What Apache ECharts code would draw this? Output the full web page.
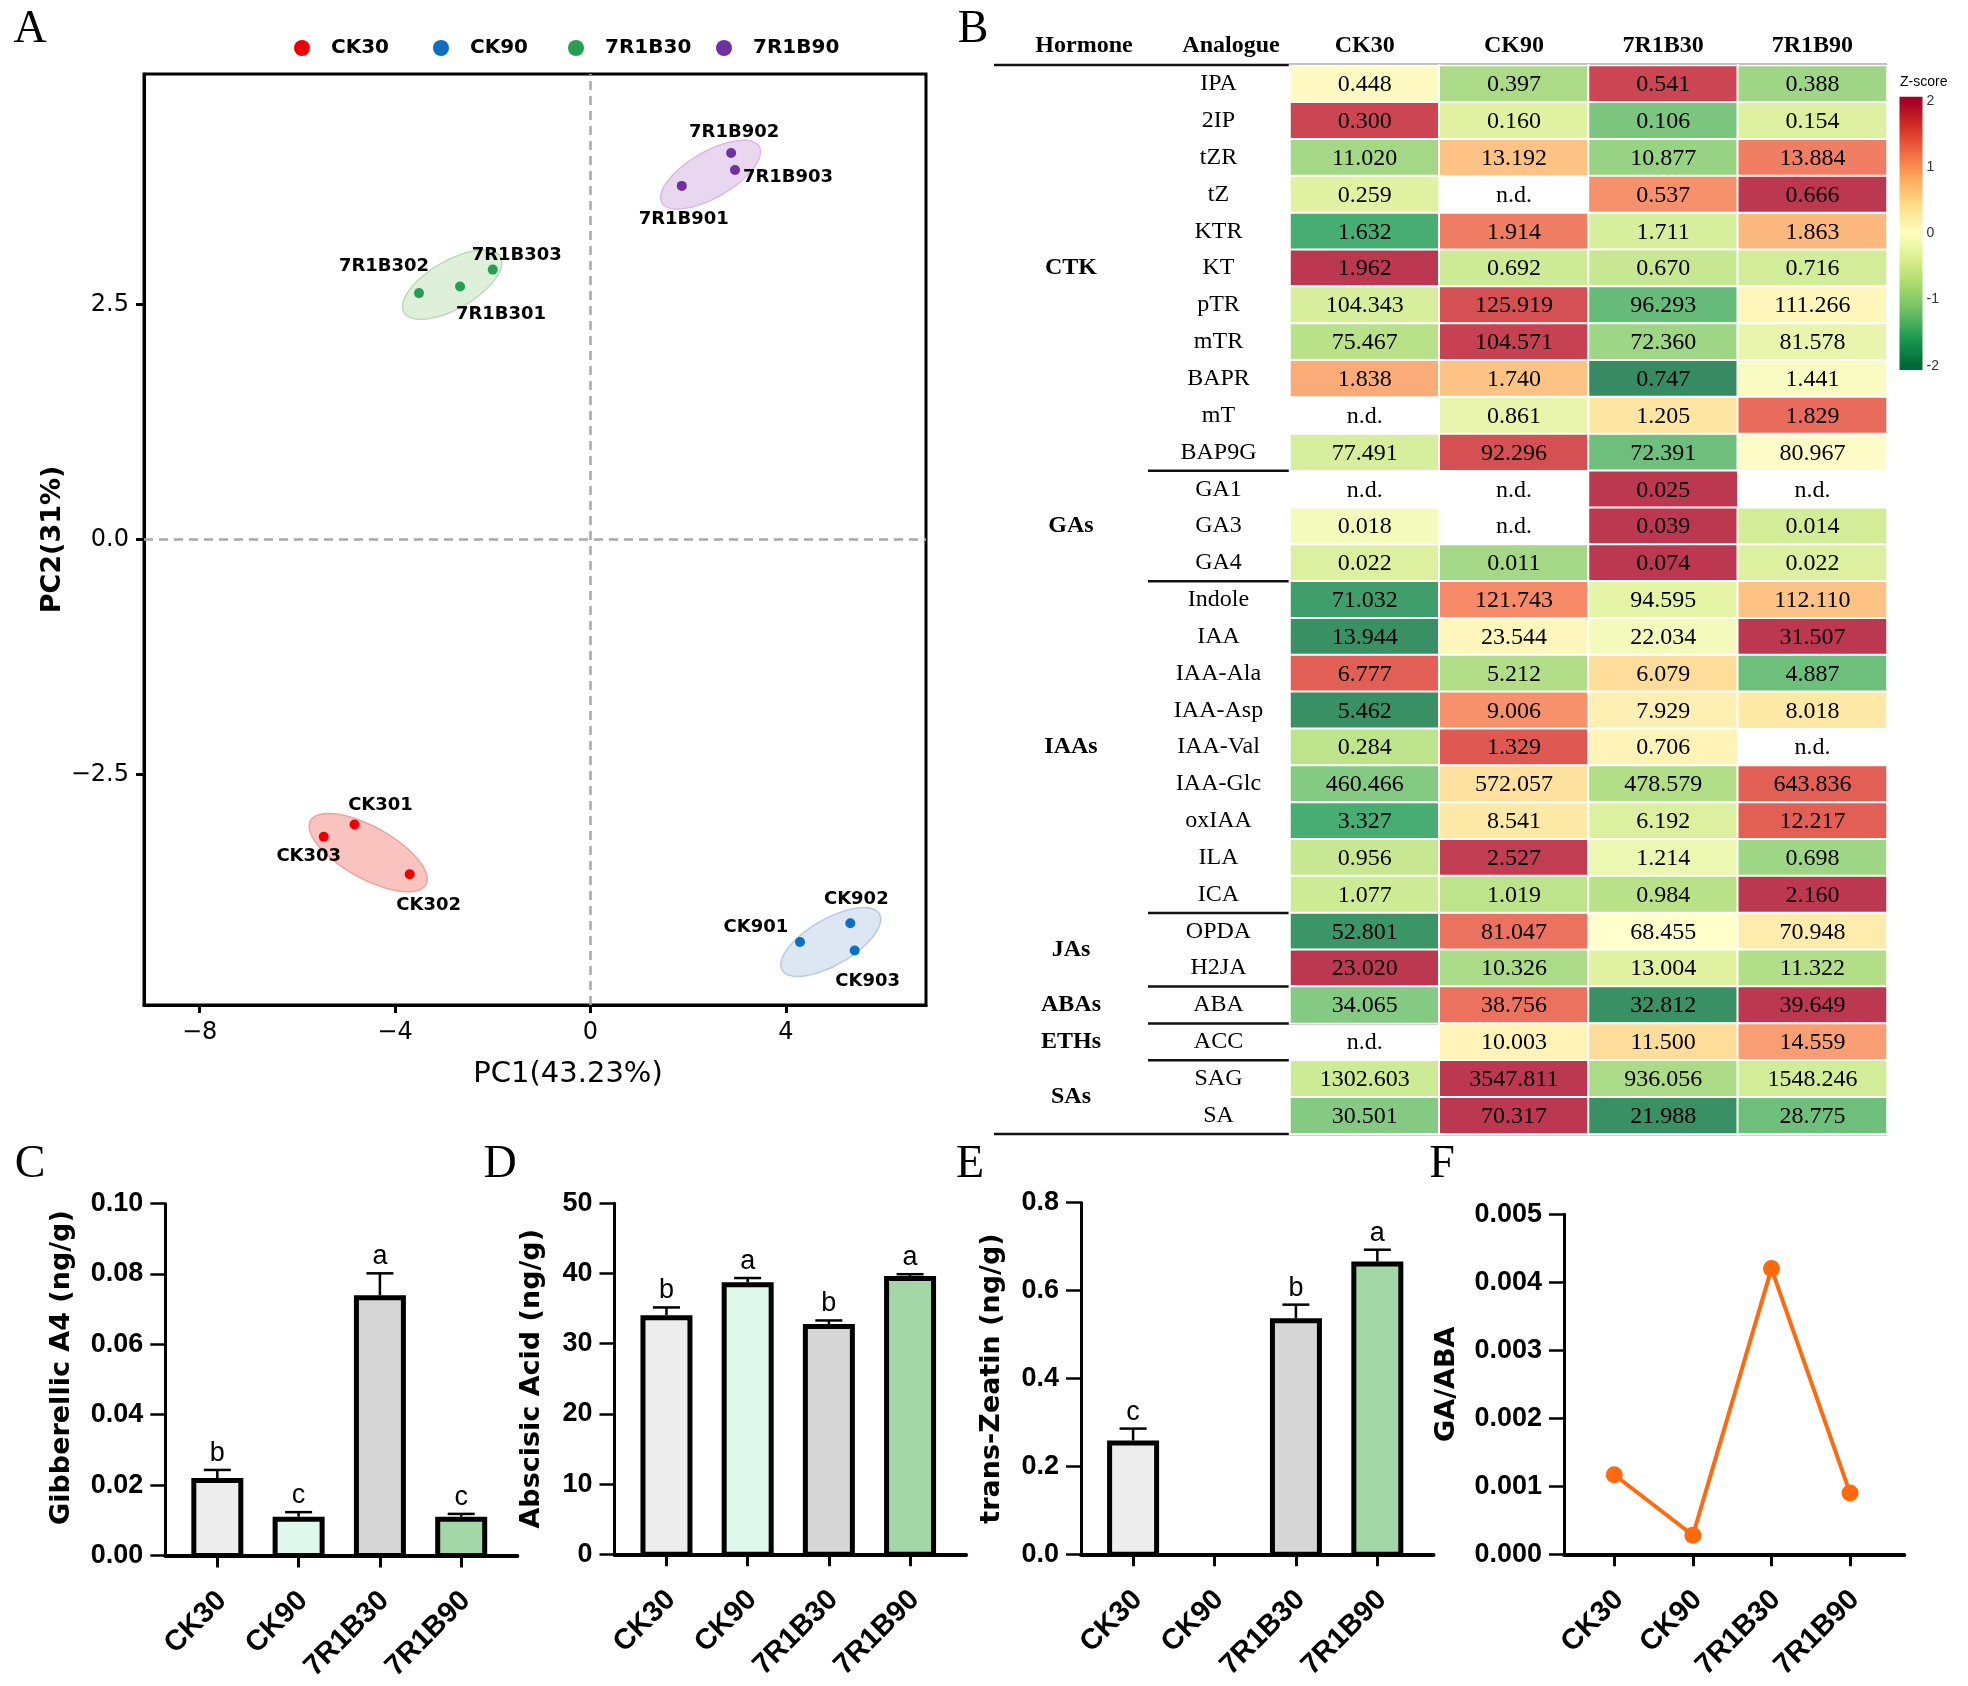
<!DOCTYPE html>
<html><head><meta charset="utf-8">
<script src="https://cdn.jsdelivr.net/npm/echarts@6/dist/echarts.min.js"></script>
<style>html,body{margin:0;padding:0;background:#fff}#c{width:1968px;height:1686px}</style>
</head><body><div id="c"></div>
<script>
// ---------------- DATA ----------------
// Panel A: PCA
const pcaGroups = ['CK30','CK90','7R1B30','7R1B90'];
const sampleNames = ['CK301','CK302','CK303','CK901','CK902','CK903','7R1B301','7R1B302','7R1B303','7R1B901','7R1B902','7R1B903'];
const sampleGroup = [0,0,0,1,1,1,2,2,2,3,3,3];
const pc1 = [-4.83,-3.70,-5.46,4.29,5.32,5.41,-2.67,-3.51,-2.00,1.87,2.88,2.96];
const pc2 = [-3.03,-3.56,-3.16,-4.28,-4.08,-4.37,2.69,2.62,2.87,3.76,4.11,3.93];
// confidence ellipses per group (centre in PC units, semi-axes in PC1 units, screen angle in degrees)
const ellipseCx = [-4.55,4.92,-2.83,2.46];
const ellipseCy = [-3.33,-4.28,2.71,3.88];
const ellipseA = [1.35,1.15,1.14,1.15];
const ellipseB = [0.53,0.47,0.49,0.47];
const ellipseAngle = [29,-30,-30,-30];

// Panel B: heatmap table
const treatments = ['CK30','CK90','7R1B30','7R1B90'];
const analogues = ['IPA','2IP','tZR','tZ','KTR','KT','pTR','mTR','BAPR','mT','BAP9G','GA1','GA3','GA4','Indole','IAA','IAA-Ala','IAA-Asp','IAA-Val','IAA-Glc','oxIAA','ILA','ICA','OPDA','H2JA','ABA','ACC','SAG','SA'];
const hormoneGroups = ['CTK','GAs','IAAs','JAs','ABAs','ETHs','SAs'];
const hormoneGroupSizes = [11,3,9,2,1,1,2];
const valCK30 = [0.448,0.300,11.020,0.259,1.632,1.962,104.343,75.467,1.838,null,77.491,null,0.018,0.022,71.032,13.944,6.777,5.462,0.284,460.466,3.327,0.956,1.077,52.801,23.020,34.065,null,1302.603,30.501];
const valCK90 = [0.397,0.160,13.192,null,1.914,0.692,125.919,104.571,1.740,0.861,92.296,null,null,0.011,121.743,23.544,5.212,9.006,1.329,572.057,8.541,2.527,1.019,81.047,10.326,38.756,10.003,3547.811,70.317];
const val7R30 = [0.541,0.106,10.877,0.537,1.711,0.670,96.293,72.360,0.747,1.205,72.391,0.025,0.039,0.074,94.595,22.034,6.079,7.929,0.706,478.579,6.192,1.214,0.984,68.455,13.004,32.812,11.500,936.056,21.988];
const val7R90 = [0.388,0.154,13.884,0.666,1.863,0.716,111.266,81.578,1.441,1.829,80.967,null,0.014,0.022,112.110,31.507,4.887,8.018,null,643.836,12.217,0.698,2.160,70.948,11.322,39.649,14.559,1548.246,28.775];
// Z-scores (cell colours)
const zCK30 = [0.1,1.8,-0.95,-0.4,-1.6,1.95,-0.5,-0.8,0.95,null,-0.5,null,-0.15,-0.45,-1.75,-1.9,1.55,-1.9,-0.75,-1.2,-1.6,-0.65,-0.6,-1.85,1.95,-1.2,null,-0.6,-1.2];
const zCK90 = [-0.9,-0.4,0.75,null,1.3,-0.6,1.7,1.85,0.75,-0.3,1.7,null,null,-0.95,1.2,0.15,-0.85,1.15,1.6,0.45,0.35,1.9,-0.75,1.4,-0.9,1.4,0.2,1.95,1.95];
const z7R30 = [1.8,-1.25,-1.05,1.15,-0.5,-0.65,-1.4,-1.0,-1.95,0.4,-1.35,1.95,1.95,1.95,-0.35,-0.15,0.5,0.25,0.2,-0.85,-0.45,-0.25,-0.8,0.0,-0.4,-1.9,0.5,-0.9,-1.9];
const z7R90 = [-1.0,-0.45,1.3,1.95,0.85,-0.55,0.15,-0.3,-0.1,1.45,0.05,null,-0.55,-0.45,0.75,1.95,-1.35,0.35,null,1.55,1.55,-1.0,1.95,0.3,-0.85,1.95,1.05,-0.55,-1.35];
const zTicks = [-2,-1,0,1,2];

// Panels C-F
const barCats = ['CK30','CK90','7R1B30','7R1B90'];
const ga4Mean = [0.022,0.011,0.074,0.011];
const ga4Err = [0.0023,0.0013,0.0062,0.0008];
const ga4Sig = ['b','c','a','c'];
const abaMean = [34.065,38.756,32.812,39.649];
const abaErr = [1.1,0.6,0.5,0.25];
const abaSig = ['b','a','b','a'];
const tzMean = [0.259,null,0.537,0.666];
const tzErr = [0.027,null,0.031,0.027];
const tzSig = ['c','','b','a'];
const gaAbaRatio = [0.00117,0.00028,0.0042,0.0009];

// ---------------- STYLE ----------------
const SANS = 'DejaVu Sans';
const ARIAL = 'Liberation Sans';
const SERIF = 'Liberation Serif';
const groupColors = ['#ee0000','#0b6fc4','#25a052','#7030a0'];
const ellipseFill = ['#f9c4c0','#dde6f3','#dff0da','#e9d6ef'];
const ellipseStroke = ['#f0a29c','#b9c9e1','#badcb3','#d8bae3'];
const legendLeft = [289,428,563,711];
const labelOffsets = [[26,-19],[19,31],[-15,20],[-44,-15],[6,-24],[13,31],[41,28],[-35,-27],[24,-14],[2,33],[3,-21],[53,7]];
const rdylgn = ['#006837','#1a9850','#66bd63','#a6d96a','#d9ef8b','#ffffbf','#fee08b','#fdae61','#f46d43','#d73027','#a50026'];
const barFills = ['#ededed','#dff8ec','#d6d6d6','#a3d7a7'];
const lineOrange = '#ff6a0e';

function blend(hex, a){
  const r=parseInt(hex.slice(1,3),16), g=parseInt(hex.slice(3,5),16), b=parseInt(hex.slice(5,7),16);
  const f = c => Math.round(c*a + 255*(1-a));
  return 'rgb(' + f(r) + ',' + f(g) + ',' + f(b) + ')';
}
const cellPalette = rdylgn.map(c => blend(c, 0.8));
const minus = s => String(s).replace('-', '\u2212');

// ---------------- BUILD ----------------
const chart = echarts.init(document.getElementById('c'), null, {renderer:'canvas', width:1968, height:1686});

const colVals = [valCK30, valCK90, val7R30, val7R90];
const colZ = [zCK30, zCK90, z7R30, z7R90];
const heatData = [], cellData = [], cellText = [];
analogues.forEach((a, r) => {
  for (let c = 0; c < 4; c++) {
    const z = colZ[c][r];
    if (z !== null) heatData.push([c, r, z]);
    cellData.push([c, r]);
    const v = colVals[c][r];
    cellText.push(v === null ? 'n.d.' : v.toFixed(3));
  }
});

function barXAxis(gi){
  return {type:'value', gridIndex:gi, min:-0.64, max:3.69,
    axisLine:{show:true, onZero:false, lineStyle:{color:'#000', width:4}},
    axisTick:{show:true, customValues:[0,1,2,3], length:12, lineStyle:{color:'#000', width:3}},
    axisLabel:{show:true, customValues:[0,1,2,3], formatter:v => barCats[Math.round(v)], rotate:45, margin:25,
      padding:[0,8,0,0], verticalAlign:'top', fontFamily:ARIAL, fontWeight:'bold', fontSize:29, color:'#000'},
    splitLine:{show:false}};
}
function barYAxis(gi, max, interval, digits, name, gap, pad){
  return {type:'value', gridIndex:gi, min:0, max:max, interval:interval,
    axisLine:{show:true, onZero:false, lineStyle:{color:'#000', width:3}},
    axisTick:{show:true, length:15, lineStyle:{color:'#000', width:2.5}},
    axisLabel:{margin:22, formatter:v => v.toFixed(digits), fontFamily:ARIAL, fontWeight:'bold', fontSize:27, color:'#000'},
    splitLine:{show:false},
    name:name, nameLocation:'middle', nameRotate:90, nameGap:gap,
    nameTextStyle:{fontFamily:SANS, fontWeight:'bold', fontSize:27, color:'#000', padding:pad || 0}};
}
function barSeries(xi, yi, means){
  const data = [];
  means.forEach((m, i) => { if (m !== null) data.push([i, m]); });
  return {type:'custom', xAxisIndex:xi, yAxisIndex:yi, data:data, z:3,
    renderItem:(params, api) => {
      const x = api.value(0), v = api.value(1);
      const t = api.coord([x, v]), b = api.coord([x, 0]);
      const w = 52, bw = 5;
      return {type:'rect', shape:{x:t[0]-w/2+bw/2, y:t[1]+bw/2, width:w-bw, height:b[1]-t[1]-bw/2},
        style:{fill:barFills[Math.round(x)], stroke:'#000', lineWidth:bw}};
    }};
}
function errSeries(xi, yi, means, errs, sig){
  const data = [];
  means.forEach((m, i) => { if (m !== null) data.push([i, m, errs[i]]); });
  return {type:'custom', xAxisIndex:xi, yAxisIndex:yi, data:data, z:4,
    renderItem:(params, api) => {
      const x = api.value(0), v = api.value(1), e = api.value(2);
      const t = api.coord([x, v]), c = api.coord([x, v + e]);
      const h = 13.5;
      return {type:'group', children:[
        {type:'line', shape:{x1:t[0], y1:t[1], x2:c[0], y2:c[1]}, style:{stroke:'#000', lineWidth:2.5}},
        {type:'line', shape:{x1:c[0]-h, y1:c[1], x2:c[0]+h, y2:c[1]}, style:{stroke:'#000', lineWidth:2.5}},
        {type:'text', style:{text:sig[Math.round(x)], x:c[0], y:c[1]-3, align:'center', verticalAlign:'bottom',
          fontFamily:ARIAL, fontSize:27, fill:'#000'}}
      ]};
    }};
}

const option = {
  animation:false,
  backgroundColor:'#fff',
  legend:pcaGroups.map((g, i) => ({data:[g], top:33, left:legendLeft[i], icon:'circle', itemWidth:48, itemHeight:16,
    textStyle:{fontFamily:SANS, fontWeight:'bold', fontSize:20, color:'#000'}})),
  visualMap:{type:'continuous', show:false, min:-2, max:2, dimension:2, seriesIndex:5,
    inRange:{color:cellPalette}},
  grid:[
    {left:144, top:74, width:782, height:931, show:true, borderColor:'#000', borderWidth:3},
    {left:1290, top:65.5, width:597, height:1068.5},
    {left:1899.5, top:96.7, width:23, height:273.3},
    {left:165.3, top:1203.7, width:352, height:351.7},
    {left:614.5, top:1203.3, width:351.6, height:351},
    {left:1081, top:1202.7, width:352.5, height:351.6},
    {left:1564, top:1214.2, width:340.3, height:340.1}
  ],
  xAxis:[
    {type:'value', gridIndex:0, min:-9.14, max:6.87,
      axisLine:{show:true, onZero:false, lineStyle:{color:'#000', width:3}},
      axisTick:{show:true, customValues:[-8,-4,0,4], length:8, lineStyle:{color:'#000', width:3}},
      axisLabel:{customValues:[-8,-4,0,4], formatter:v => minus(v), margin:16, fontFamily:SANS, fontSize:24, color:'#000'},
      splitLine:{show:false},
      name:'PC1(43.23%)', nameLocation:'middle', nameGap:55,
      nameTextStyle:{fontFamily:SANS, fontSize:29, color:'#000', padding:[0,0,0,66]}},
    {type:'category', gridIndex:1, position:'top', data:treatments,
      axisLine:{show:false}, axisTick:{show:false}, splitLine:{show:false},
      axisLabel:{margin:20, verticalAlign:'middle', fontFamily:SERIF, fontWeight:'bold', fontSize:24, color:'#000'}},
    {type:'value', gridIndex:2, min:0, max:1, show:false},
    barXAxis(3), barXAxis(4), barXAxis(5), barXAxis(6)
  ],
  yAxis:[
    {type:'value', gridIndex:0, min:-4.95, max:4.95,
      axisLine:{show:true, onZero:false, lineStyle:{color:'#000', width:3}},
      axisTick:{show:true, customValues:[-2.5,0,2.5], length:8, lineStyle:{color:'#000', width:3}},
      axisLabel:{customValues:[-2.5,0,2.5], formatter:v => minus(v.toFixed(1)), margin:15, fontFamily:SANS, fontSize:24, color:'#000'},
      splitLine:{show:false},
      name:'PC2(31%)', nameLocation:'middle', nameRotate:90, nameGap:78,
      nameTextStyle:{fontFamily:SANS, fontWeight:'bold', fontSize:27, color:'#000'}},
    {type:'category', gridIndex:1, inverse:true, data:analogues,
      axisLine:{show:false}, axisTick:{show:false}, splitLine:{show:false},
      axisLabel:{margin:71.5, align:'center', fontFamily:SERIF, fontSize:24, color:'#000'}},
    {type:'value', gridIndex:2, position:'right', min:-2.065, max:2.065,
      axisLine:{show:false}, splitLine:{show:false},
      axisTick:{show:true, inside:true, customValues:zTicks, length:5, lineStyle:{color:'#fff', width:1.5}},
      axisLabel:{customValues:zTicks, margin:4, fontFamily:ARIAL, fontSize:14, color:'#333'}},
    {type:'value', gridIndex:2, position:'left', min:-2.065, max:2.065,
      axisLine:{show:false}, splitLine:{show:false},
      axisTick:{show:true, inside:true, customValues:zTicks, length:5, lineStyle:{color:'#fff', width:1.5}},
      axisLabel:{show:false}},
    barYAxis(3, 0.10, 0.02, 2, 'Gibberellic A4 (ng/g)', 90, [0,0,0,24]),
    barYAxis(4, 50, 10, 0, 'Abscisic Acid (ng/g)', 69),
    barYAxis(5, 0.8, 0.2, 1, 'trans-Zeatin (ng/g)', 76),
    barYAxis(6, 0.005, 0.001, 3, 'GA/ABA', 104)
  ],
  series:[]
};

// 0: ellipses
option.series.push({type:'custom', xAxisIndex:0, yAxisIndex:0, z:1,
  data:ellipseCx.map((x, i) => [x, ellipseCy[i]]),
  renderItem:(params, api) => {
    const g = params.dataIndex;
    const c = api.coord([ellipseCx[g], ellipseCy[g]]);
    const unit = api.size([1, 0])[0];
    const a = ellipseA[g]*unit, b = ellipseB[g]*unit, th = ellipseAngle[g]*Math.PI/180;
    const pts = [];
    for (let k = 0; k < 96; k++) {
      const t = k/96*2*Math.PI, ex = a*Math.cos(t), ey = b*Math.sin(t);
      pts.push([c[0] + ex*Math.cos(th) - ey*Math.sin(th), c[1] + ex*Math.sin(th) + ey*Math.cos(th)]);
    }
    return {type:'polygon', shape:{points:pts},
      style:{fill:ellipseFill[g], stroke:ellipseStroke[g], lineWidth:1.5}};
  }});
// 1-4: scatter groups
pcaGroups.forEach((gname, g) => {
  const data = [];
  sampleNames.forEach((s, i) => {
    if (sampleGroup[i] === g) data.push({value:[pc1[i], pc2[i]], name:s, label:{offset:labelOffsets[i]}});
  });
  const s = {type:'scatter', name:gname, xAxisIndex:0, yAxisIndex:0, data:data, symbol:'circle', symbolSize:10, z:3,
    itemStyle:{color:groupColors[g], opacity:1},
    label:{show:true, position:'inside', formatter:p => p.name, color:'#000', fontFamily:SANS, fontWeight:'bold', fontSize:18}};
  if (g === 0) s.markLine = {silent:true, symbol:'none', label:{show:false},
    lineStyle:{type:[9,6], color:'#a8a8a8', width:2.5}, data:[{xAxis:0},{yAxis:0}]};
  option.series.push(s);
});
// 5: heatmap
option.series.push({type:'heatmap', xAxisIndex:1, yAxisIndex:1, data:heatData,
  itemStyle:{borderColor:'#fff', borderWidth:2}, emphasis:{disabled:true}});
// 6: heatmap text
option.series.push({type:'custom', xAxisIndex:1, yAxisIndex:1, data:cellData, z:5,
  renderItem:(params, api) => {
    const p = api.coord([api.value(0), api.value(1)]);
    return {type:'text', style:{text:cellText[params.dataIndex], x:p[0], y:p[1]+1, align:'center', verticalAlign:'middle',
      fontFamily:SERIF, fontSize:24, fill:'#000'}};
  }});
// 7: colour bar
option.series.push({type:'custom', xAxisIndex:2, yAxisIndex:2, data:[[0, 0]], z:2,
  renderItem:(params, api) => {
    const tl = api.coord([0, 2.065]), br = api.coord([1, -2.065]);
    const stops = [{offset:0, color:rdylgn[10]}];
    rdylgn.slice().reverse().forEach((c, i) => {
      const z = 2 - i*0.4;
      stops.push({offset:(2.065 - z)/4.13, color:c});
    });
    stops.push({offset:1, color:rdylgn[0]});
    return {type:'rect', shape:{x:tl[0], y:tl[1], width:br[0]-tl[0], height:br[1]-tl[1]},
      style:{fill:new echarts.graphic.LinearGradient(0, 0, 0, 1, stops)}};
  }});
// 8-13: bars + error bars
option.series.push(barSeries(3, 4, ga4Mean), errSeries(3, 4, ga4Mean, ga4Err, ga4Sig));
option.series.push(barSeries(4, 5, abaMean), errSeries(4, 5, abaMean, abaErr, abaSig));
option.series.push(barSeries(5, 6, tzMean), errSeries(5, 6, tzMean, tzErr, tzSig));
// 14: GA/ABA line
option.series.push({type:'line', xAxisIndex:6, yAxisIndex:7, data:gaAbaRatio.map((v, i) => [i, v]),
  symbol:'circle', symbolSize:17, itemStyle:{color:lineOrange}, lineStyle:{color:lineOrange, width:4}, z:3});

chart.setOption(option);

// ---------------- annotations depending on heatmap layout ----------------
const hmFinder = {xAxisIndex:1, yAxisIndex:1};
const rowY = i => chart.convertToPixel(hmFinder, [0, i])[1];
const rowH = rowY(1) - rowY(0);
const gfx = [];
const txt = (t, x, y, font, align) => ({type:'text', x:x, y:y, silent:true,
  style:{text:t, font:font, fill:'#000', align:align || 'center', verticalAlign:'middle'}});
const hline = (x1, x2, y, w) => ({type:'line', silent:true, shape:{x1:x1, y1:y, x2:x2, y2:y}, style:{stroke:'#111', lineWidth:w}});
// panel letters
[['A',30,30],['B',973,30],['C',30,1165],['D',500,1165],['E',970,1165],['F',1442,1165]].forEach(p => {
  gfx.push(txt(p[0], p[1], p[2], '46px "Liberation Serif"'));
});
// table headers
gfx.push(txt('Hormone', 1084, 46, 'bold 24px "Liberation Serif"'));
gfx.push(txt('Analogue', 1231, 46, 'bold 24px "Liberation Serif"'));
const topY = rowY(0) - rowH/2;
const botY = rowY(analogues.length - 1) + rowH/2;
gfx.push(hline(994, 1887, topY - 0.5, 2.5));
gfx.push(hline(994, 1887, botY, 2.5));
let start = 0;
hormoneGroups.forEach((g, k) => {
  const n = hormoneGroupSizes[k];
  const yMid = (rowY(start) + rowY(start + n - 1)) / 2;
  gfx.push(txt(g, 1071, yMid, 'bold 24px "Liberation Serif"'));
  if (start > 0) gfx.push(hline(1148, 1887, (rowY(start - 1) + rowY(start)) / 2, 2.5));
  start += n;
});
// colour-bar title
gfx.push(txt('Z-score', 1900, 82, '14px "Liberation Sans"', 'left'));
chart.setOption({graphic:gfx});
</script>
</body></html>
